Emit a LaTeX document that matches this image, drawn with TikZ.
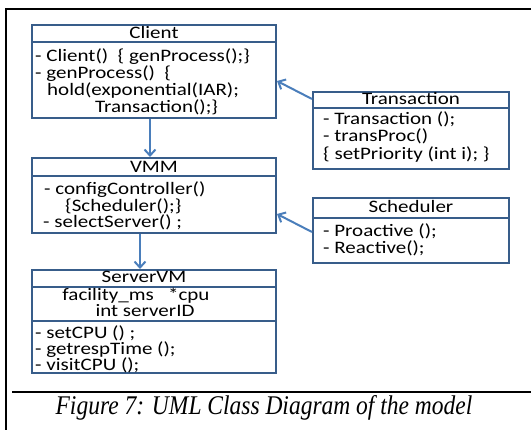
\documentclass[tikz,border=0pt]{standalone}
\usepackage{fontspec}
\setmainfont{Carlito}[FakeStretch=1.2]
\newfontfamily\captionfont{Liberation Serif}[FakeStretch=0.87]
\usetikzlibrary{arrows.meta,fit}
\definecolor{boxblue}{RGB}{56,93,138}
\definecolor{arrowblue}{RGB}{74,126,187}
\tikzset{
  umlbox/.style={draw=boxblue, line width=2pt, inner sep=0pt},
  divider/.style={draw=boxblue, line width=2pt},
  hdr/.style={anchor=base, inner sep=0pt, font=\fontsize{17.5}{20}\selectfont},
  item/.style={anchor=base west, inner sep=0pt, font=\fontsize{17.5}{20}\selectfont},
  link/.style={draw=arrowblue, line width=2pt, -{Straight Barb[length=6pt,width=11pt]}},
  frame/.style={draw=black, line width=2.5pt}
}
\begin{document}
\begin{tikzpicture}[x=1pt,y=-1pt]
\useasboundingbox (0,0) rectangle (531,430);

% outer figure frame and caption rule
\draw[frame] (6,432) -- (6,9) -- (533,9);
\draw[frame] (12,392) -- (533,392);

% class boxes
\node[umlbox, fit={(32,25)(276,118)}] (client) {};
\node[umlbox, fit={(32,158)(276,233)}] (vmm) {};
\node[umlbox, fit={(32,270)(276,373)}] (server) {};
\node[umlbox, fit={(313,92)(509,169)}] (trans) {};
\node[umlbox, fit={(313,198)(509,263)}] (sched) {};

% compartment dividers
\draw[divider] (client.west |- 0,42) -- (client.east |- 0,42);
\draw[divider] (vmm.west |- 0,176) -- (vmm.east |- 0,176);
\draw[divider] (server.west |- 0,287) -- (server.east |- 0,287);
\draw[divider] (server.west |- 0,321) -- (server.east |- 0,321);
\draw[divider] (trans.west |- 0,108) -- (trans.east |- 0,108);
\draw[divider] (sched.west |- 0,218) -- (sched.east |- 0,218);

% Client
\node[hdr] (clientname) at (154,38.5) {Client};
\node[item] (c1) at (35,62) {- Client()\ \ \{ genProcess();\}};
\node[item] (c2) at (35,79) {- genProcess()\ \ \{};
\node[item] (c3) at (47,96) {hold(exponential(IAR);};
\node[item] (c4) at (95,113) {Transaction();\}};

% VMM
\node[hdr] (vmmname) at (154,173) {VMM};
\node[item] (v1) at (44,195) {- configController()};
\node[item] (v2) at (65,211.5) {\{Scheduler();\}};
\node[item] (v3) at (43,228) {- selectServer() ;};

% ServerVM
\node[hdr] (servername) at (144,283) {ServerVM};
\node[hdr] (s1) at (136,301) {facility\_ms\ \ \ *cpu};
\node[hdr] (s2) at (145,317) {int serverID};
\node[item] (s3) at (35,338.5) {- setCPU () ;};
\node[item] (s4) at (35,355) {- getrespTime ();};
\node[item] (s5) at (35,371) {- visitCPU ();};

% Transaction
\node[hdr] (transname) at (411,104.3) {Transaction};
\node[item] (t1) at (323,125) {- Transaction ();};
\node[item] (t2) at (323,141.7) {- transProc()};
\node[item] (t3) at (323,159.3) {\{ setPriority (int i); \}};

% Scheduler
\node[hdr] (schedname) at (411,212.3) {Scheduler};
\node[item] (p1) at (323,236.7) {- Proactive ();};
\node[item] (p2) at (323,253.3) {- Reactive();};

% associations
\draw[link] (client.south -| 150,0) -- (vmm.north -| 150,0);
\draw[link] (vmm.south -| 140,0) -- (server.north -| 140,0);
\draw[link] (trans.west |- 0,99) -- (client.east |- 0,81);
\draw[link] (sched.west |- 0,232) -- (vmm.east |- 0,214);

% caption
\node[anchor=base, inner sep=0pt, font=\captionfont\itshape\fontsize{27}{30}\selectfont] (caption) at (264,415) {Figure 7: UML Class Diagram of the model};
\end{tikzpicture}
\end{document}
